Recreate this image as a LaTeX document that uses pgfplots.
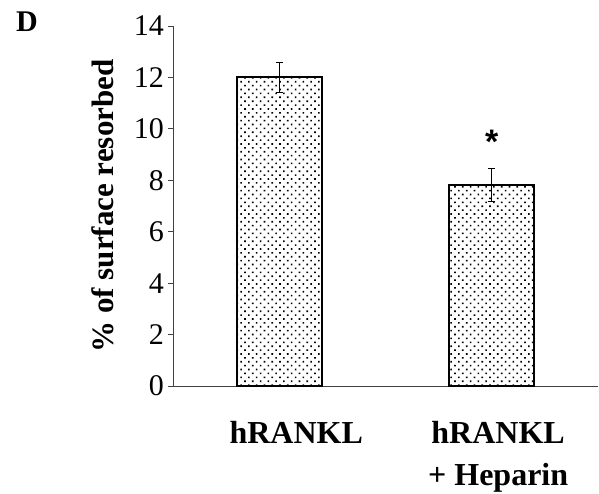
\documentclass[border=0pt]{standalone}
\usepackage{fontspec}
\setmainfont{Liberation Serif}
\newfontfamily\sansbold{Liberation Sans}
\usepackage{pgfplots}
\pgfplotsset{compat=1.18}
\usetikzlibrary{patterns.meta}
\begin{document}
\begin{tikzpicture}
\path[use as bounding box] (0pt,0pt) rectangle (599pt,494pt);
\node[anchor=north west,inner sep=0pt,font=\fontsize{30}{36}\selectfont\bfseries] at (16pt,482pt) {D};
\begin{axis}[
  at={(173pt,108pt)}, anchor=south west,
  scale only axis, width=425pt, height=360pt,
  xmin=0, xmax=2, ymin=0, ymax=14,
  axis x line=bottom, axis y line=left,
  axis line style={-, line width=0.8pt, black!75},
  ytick={0,2,...,14},
  xtick={0.58,1.53},
  xticklabels={hRANKL, {hRANKL\\+ Heparin}},
  xtick style={draw=none},
  minor xtick={0,1,2},
  minor tick length=9pt,
  major tick length=5pt,
  tick align=outside,
  tick style={line width=0.8pt, black!75},
  /pgf/number format/assume math mode=true,
  yticklabel style={font=\fontsize{30}{36}\selectfont, inner sep=0pt, xshift=-4pt},
  xticklabel style={font=\fontsize{32}{42}\selectfont\bfseries, align=center, inner sep=0pt, yshift=-30pt},
  ylabel={\% of surface resorbed},
  ylabel style={font=\fontsize{31}{36}\selectfont\bfseries, at={(axis description cs:-0.165,0.5)}, anchor=center},
  clip=false,
]
\addplot[ybar, bar width=85pt, draw=black, line width=2pt,
  pattern={Dots[distance=5.5pt, angle=45, radius=1.15pt]}, pattern color=black,
  error bars/.cd, y dir=both, y explicit,
  error bar style={line width=0.8pt, black, solid},
  error mark options={rotate=90, mark size=3.5pt, line width=0.8pt, black}]
  table[x=x, y=y, y error=e] {
  x   y     e
  0.5 12.0  0.58
  1.5 7.83  0.64
  };
\node[anchor=base, font=\fontsize{34}{40}\selectfont\sansbold\bfseries] at (axis cs:1.5,9.05) {*};
\end{axis}
\end{tikzpicture}
\end{document}
